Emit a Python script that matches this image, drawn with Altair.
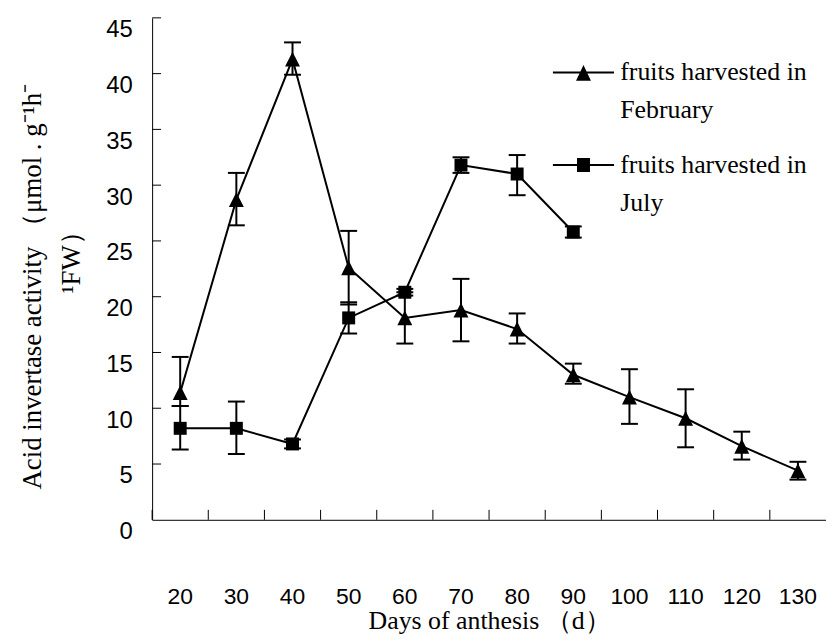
import altair as alt
import pandas as pd

days = [20, 30, 40, 50, 60, 70, 80, 90, 100, 110, 120, 130]
feb_mean = [11.4, 28.7, 41.3, 22.6, 18.1, 18.8, 17.1, 13.0, 11.0, 9.1, 6.6, 4.4]
feb_lo = [10.2, 26.4, 39.9, 19.3, 15.8, 16.0, 15.8, 12.2, 8.6, 6.5, 5.4, 3.6]
feb_hi = [14.6, 31.1, 42.8, 25.9, 20.4, 21.6, 18.5, 14.0, 13.5, 11.7, 7.9, 5.2]

jul_days = [20, 30, 40, 50, 60, 70, 80, 90]
jul_mean = [8.2, 8.2, 6.8, 18.1, 20.4, 31.8, 31.0, 25.8]
jul_lo = [6.3, 5.9, 6.4, 16.7, 20.1, 31.1, 29.1, 25.3]
jul_hi = [10.2, 10.6, 7.2, 19.5, 20.7, 32.5, 32.7, 26.3]

series_names = ["\u2002fruits harvested in|February", "fruits harvested in|July"]
y_ticks = [0, 5, 10, 15, 20, 25, 30, 35, 40, 45]
y_title_1 = "Acid invertase activity （μmol . g⁻¹h⁻"
y_title_2 = "¹FW）"
x_title = "Days of anthesis （d）"

rows = []
for d, m, lo, hi in zip(days, feb_mean, feb_lo, feb_hi):
    rows.append({"series": series_names[0], "day": d, "mean": m, "lo": lo, "hi": hi})
for d, m, lo, hi in zip(jul_days, jul_mean, jul_lo, jul_hi):
    rows.append({"series": series_names[1], "day": d, "mean": m, "lo": lo, "hi": hi})
df = pd.DataFrame(rows)
days_df = pd.DataFrame({"day": days})
yt_df = pd.DataFrame({"mean": y_ticks[1:]})

# marker shapes
tri_data = "M0,-1L1,1L-1,1Z"
sq_data = "M-0.87,-0.87L0.87,-0.87L0.87,0.87L-0.87,0.87Z"
leg_line = "M-4.1,-0.13L4.1,-0.13L4.1,0.13L-4.1,0.13Z"
tri_leg = leg_line + "M0,-1L1,1.1L-1,1.1Z"
sq_leg = leg_line + "M-0.87,-0.93L0.87,-0.93L0.87,0.93L-0.87,0.93Z"

xscale = alt.Scale(type="band", paddingInner=0, paddingOuter=0)
yscale = alt.Scale(domain=[0, 45], nice=False, zero=True)

x_axis = alt.Axis(
    title=x_title, titleFont="Liberation Serif", titleFontSize=26,
    titleFontWeight="normal", titleColor="black", titleY=109, titleBaseline="alphabetic",
    labelFont="Liberation Sans", labelFontSize=23, labelColor="black", labelAngle=0,
    labelPadding=66, ticks=False, domainColor="black", domainWidth=1, grid=False,
)
y_axis = alt.Axis(
    title=y_title_2, orient="left",
    titleFont="Liberation Serif", titleFontSize=27, titleFontWeight="normal",
    titleColor="black", titleAngle=-90, titleBaseline="middle", titleX=-81, titleY=239,
    values=y_ticks, labelFont="Liberation Sans", labelFontSize=24, labelColor="black",
    labelPadding=20, labelOffset=12, ticks=False, grid=False,
    domainColor="black", domainWidth=1,
)
y_axis_2 = alt.Axis(
    title=y_title_1, orient="left",
    titleFont="Liberation Serif", titleFontSize=27, titleFontWeight="normal",
    titleColor="black", titleAngle=-90, titleBaseline="middle", titleX=-120, titleY=270,
    labels=False, ticks=False, domain=False, grid=False,
)

X = alt.X("day:O", scale=xscale, axis=x_axis)
def Yf(field):
    return alt.Y(field, scale=yscale, axis=y_axis)

base = alt.Chart(df)

err = base.mark_rule(color="black", strokeWidth=2).encode(
    x=X, y=Yf("lo:Q"), y2="hi:Q"
)
caps = base.transform_fold(["lo", "hi"], as_=["k", "v"]).mark_tick(
    color="black", size=17, thickness=2, opacity=1
).encode(x=X, y=Yf("v:Q"))
lines = base.mark_line(color="black", strokeWidth=2).encode(x=X, y=Yf("mean:Q"), detail="series:N")
points = base.mark_point(filled=True, opacity=1, size=225, color="black", strokeWidth=0).encode(
    x=X, y=Yf("mean:Q"),
    shape=alt.Shape("series:N", scale=alt.Scale(domain=series_names, range=[tri_data, sq_data]), legend=None),
)
xticks = alt.Chart(days_df).mark_rule(color="black", strokeWidth=1).encode(
    x=alt.X("day:O", scale=xscale, axis=x_axis, bandPosition=0),
    y=alt.value(505), y2=alt.value(495),
)
yticks = alt.Chart(yt_df).mark_rule(color="black", strokeWidth=1).encode(
    y=Yf("mean:Q"), x=alt.value(0), x2=alt.value(9),
)
legend_layer = base.transform_filter("false").mark_point(
    filled=True, opacity=1, size=225, color="black", strokeWidth=0
).encode(
    x=X, y=alt.Y("mean:Q", scale=yscale, axis=y_axis_2),
    shape=alt.Shape(
        "series:N",
        scale=alt.Scale(domain=series_names, range=[tri_leg, sq_leg]),
        legend=alt.Legend(
            title=None, orient="none", legendX=421, legendY=42,
            labelExpr="split(datum.label, '|')",
            labelFont="Liberation Serif", labelFontSize=26, labelColor="black",
            labelOffset=24, labelLimit=400, rowPadding=29, padding=0,
            symbolSize=225, symbolFillColor="black", symbolStrokeWidth=0,
            symbolOpacity=1,
        ),
    ),
)

main = alt.layer(err, caps, lines, points, xticks, yticks)

chart = alt.layer(main, legend_layer).resolve_scale(
    shape="independent", y="independent"
).properties(
    width=678, height=505, autosize="none",
    padding={"left": 145, "top": 8, "right": 0, "bottom": 114},
    background="white",
).configure(
    style={"guide-label": {"lineHeight": 38}},
    view=alt.ViewConfig(stroke=None),
)

chart.save("out.html", embed_options={"renderer": "svg", "actions": False})
